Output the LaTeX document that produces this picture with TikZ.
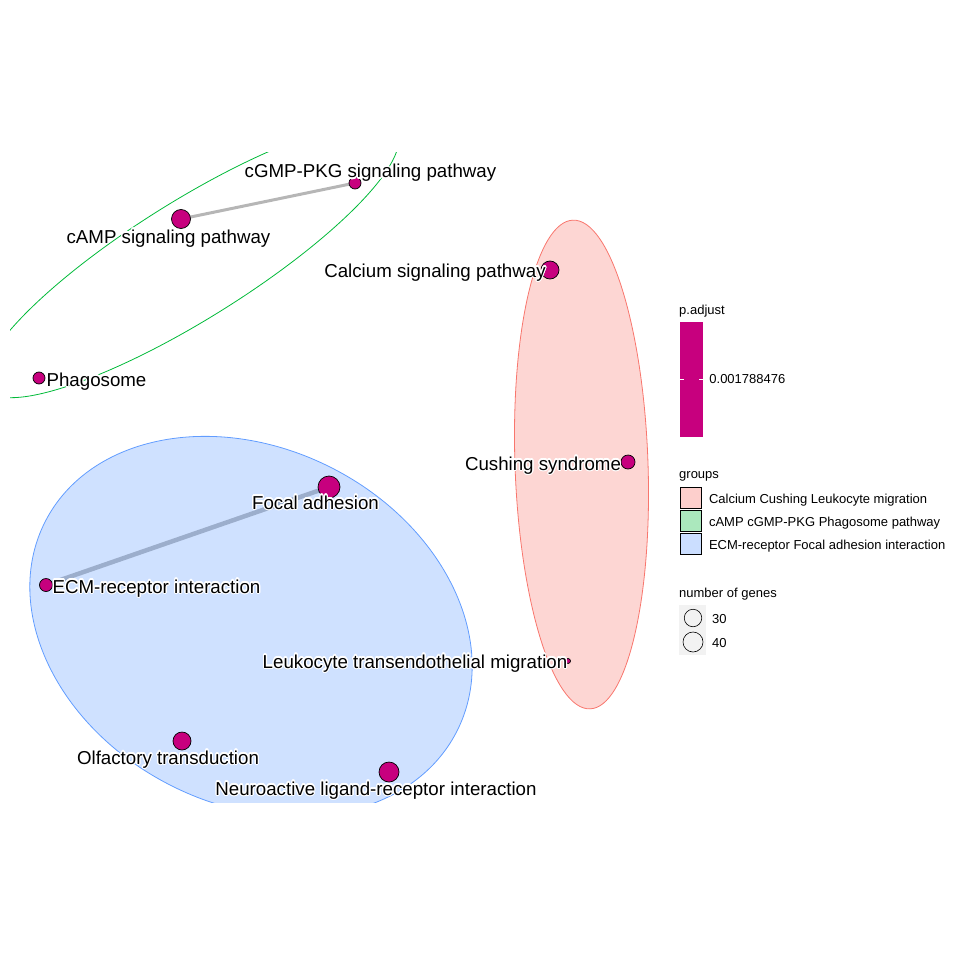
\documentclass[tikz,border=0pt]{standalone}
\usepackage{fontspec}
\setmainfont{Liberation Sans}
\usepackage[copies]{contour}
\usetikzlibrary{positioning,backgrounds}
\definecolor{padj}{RGB}{199,0,126}
\definecolor{ggred}{RGB}{248,118,109}
\definecolor{gggreen}{RGB}{0,186,56}
\definecolor{ggblue}{RGB}{97,156,255}
\definecolor{edgegrey}{RGB}{182,182,182}
\contourlength{1.2pt}
\contournumber{16}
\newcommand{\lab}[1]{\contour{white}{#1}}
\tikzset{
	term/.style={circle, draw=black, fill=padj, inner sep=0pt, line width=0.7pt},
	lbl/.style={font=\fontsize{18.7}{20}\selectfont, inner sep=0pt, anchor=base},
	key/.style={font=\fontsize{13}{15}\selectfont, inner sep=0pt},
	keybox/.style={draw=black, line width=0.6pt, minimum width=21pt, minimum height=21pt, inner sep=0pt},
	simedge/.style={draw=edgegrey, line width=#1},
}

\begin{document}
\begin{tikzpicture}[x=1pt, y=-1pt]
	\useasboundingbox (0,0) rectangle (960,960);
	% terms
	\node[term, minimum size=12pt] (cgmp) at (355,183) {};
	\node[term, minimum size=19pt] (camp) at (181,219) {};
	\node[term, minimum size=12pt] (phag) at (39,378) {};
	\node[term, minimum size=18pt] (calc) at (550,270) {};
	\node[term, minimum size=14pt] (cush) at (628,462) {};
	\node[term, minimum size=5pt] (leuk) at (568,661) {};
	\node[term, minimum size=22pt] (focal) at (329,487) {};
	\node[term, minimum size=13pt] (ecm) at (46,585) {};
	\node[term, minimum size=18pt] (olf) at (182,741) {};
	\node[term, minimum size=20pt] (neuro) at (389,772) {};
	% similarity edges and group shapes, behind the terms
	\begin{scope}[on background layer]
		\clip (10,153) rectangle (660,802);
		\draw[simedge=3pt] (camp.center) -- (cgmp.center);
		\draw[simedge=4.5pt] (ecm.center) -- (focal.center);
		\draw[gggreen, line width=0.8pt, rotate around={32:(191,260)}] (191,260) ellipse [x radius=242, y radius=59];
		\draw[ggred, fill=ggred, fill opacity=0.3, line width=0.8pt, rotate around={2:(581.5,464.5)}] (581.5,464.5) ellipse [x radius=66.5, y radius=244.5];
		\draw[ggblue, fill=ggblue, fill opacity=0.3, line width=0.8pt, rotate around={-27:(251,626.5)}] (251,626.5) ellipse [x radius=231, y radius=178];
	\end{scope}
	% labels
	\node[lbl] (cgmplbl) at (370.5,178) {\lab{cGMP-PKG signaling pathway}};
	\node[lbl] (camplbl) at (168.5,243) {\lab{cAMP signaling pathway}};
	\node[lbl] (calclbl) at (435,277) {\lab{Calcium signaling pathway}};
	\node[lbl] (phaglbl) at (96.5,386) {\lab{Phagosome}};
	\node[lbl] (cushlbl) at (543,470) {\lab{Cushing syndrome}};
	\node[lbl] (focallbl) at (315.5,509) {\lab{Focal adhesion}};
	\node[lbl] (ecmlbl) at (156.5,593) {\lab{ECM-receptor interaction}};
	\node[lbl] (leuklbl) at (415,668) {\lab{Leukocyte transendothelial migration}};
	\node[lbl] (olflbl) at (168,764) {\lab{Olfactory transduction}};
	\node[lbl] (neurolbl) at (376,795) {\lab{Neuroactive ligand-receptor interaction}};
	% legend: p.adjust
	\node[key, anchor=base west] (padjtitle) at (679,314) {p.adjust};
	\node[fill=padj, minimum width=23pt, minimum height=115pt, inner sep=0pt] (cbar) at (691.5,379.5) {};
	\draw[white, line width=0.8pt] (cbar.west) -- ++(4.5,0) (cbar.east) -- ++(-4.5,0);
	\node[key, right=6pt of cbar] (padjval) {0.001788476};
	% legend: groups
	\node[key, anchor=base west] (grptitle) at (679,478) {groups};
	\node[keybox, fill=ggred!35] (kcal) at (691,497.5) {};
	\node[keybox, fill=gggreen!33, below=1.5pt of kcal] (kcamp) {};
	\node[keybox, fill=ggblue!33, below=1.5pt of kcamp] (kecm) {};
	\node[key, right=7pt of kcal, yshift=-2.5pt] {Calcium Cushing Leukocyte migration};
	\node[key, right=7pt of kcamp, yshift=-2.5pt] {cAMP cGMP-PKG Phagosome pathway};
	\node[key, right=7pt of kecm, yshift=-2.5pt] {ECM-receptor Focal adhesion interaction};
	% legend: number of genes
	\node[key, anchor=base west] (sizetitle) at (679,597) {number of genes};
	\fill[black!5] (679,605) rectangle (706,655);
	\node[circle, draw=black, line width=0.6pt, minimum size=17.5pt, inner sep=0pt] (s30) at (693,618) {};
	\node[circle, draw=black, line width=0.6pt, minimum size=20pt, inner sep=0pt] (s40) at (693,642) {};
	\node[key, anchor=west] at (712,619) {30};
	\node[key, anchor=west] at (712,643) {40};
\end{tikzpicture}
\end{document}
